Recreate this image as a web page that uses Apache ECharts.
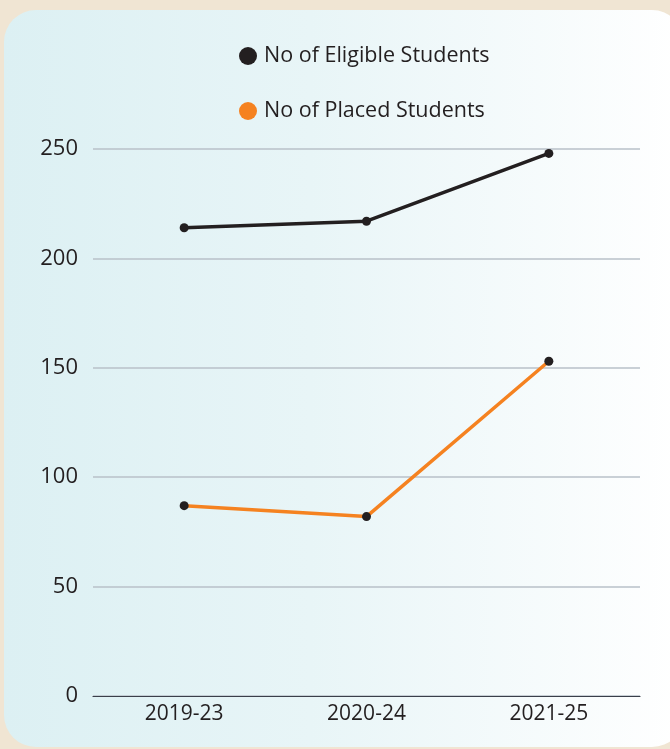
<!DOCTYPE html>
<html>
<head>
<meta charset="utf-8">
<script src="https://cdn.jsdelivr.net/npm/echarts@6/dist/echarts.min.js"></script>
<style>
html,body{margin:0;padding:0;width:670px;height:749px;background:#f0e5d3;overflow:hidden;}
#card{position:absolute;left:4px;top:10px;width:680px;height:737px;border-radius:32px;
background:linear-gradient(to right,#dcf0f3 0%,#e8f5f7 45%,#ffffff 100%);}
#chart{position:absolute;left:0;top:0;width:670px;height:749px;}
</style>
</head>
<body>
<div id="card"></div>
<div id="chart"></div>
<script>
var categories = ['2019-23', '2020-24', '2021-25'];
var eligible = [214, 217, 248];
var placed = [87, 82, 153];
var seriesNames = ['No of Eligible Students', 'No of Placed Students'];
var yTicks = {min: 0, max: 250, interval: 50};

var chart = echarts.init(document.getElementById('chart'), null, {renderer: 'canvas'});
chart.setOption({
  backgroundColor: 'transparent',
  legend: {
    orient: 'vertical',
    left: 234,
    top: 40,
    itemGap: 33,
    itemWidth: 18,
    itemHeight: 18,
    icon: 'circle',
    textStyle: {fontFamily: 'Open Sans', fontSize: 21.5, color: '#231f20', padding: [0, 0, 0, 2]},
    data: [
      {name: seriesNames[0], itemStyle: {color: '#231f20'}},
      {name: seriesNames[1], itemStyle: {color: '#f58220'}}
    ]
  },
  grid: {left: 93, right: 30, top: 149, bottom: 53, containLabel: false},
  xAxis: {
    type: 'category',
    data: categories,
    boundaryGap: true,
    axisLine: {lineStyle: {color: '#3a3f4a', width: 1.2}},
    axisTick: {show: false},
    axisLabel: {fontFamily: 'Open Sans', fontSize: 21, color: '#231f20', margin: 8}
  },
  yAxis: {
    type: 'value',
    min: yTicks.min,
    max: yTicks.max,
    interval: yTicks.interval,
    axisLine: {show: false},
    axisTick: {show: false},
    axisLabel: {fontFamily: 'Open Sans', fontSize: 22, color: '#231f20', margin: 15},
    splitLine: {lineStyle: {color: '#b9c0c9', width: 1.5}}
  },
  series: [
    {
      name: seriesNames[0], type: 'line', data: eligible,
      symbol: 'circle', symbolSize: 9,
      lineStyle: {color: '#231f20', width: 3.5},
      itemStyle: {color: '#231f20'},
      z: 3
    },
    {
      name: seriesNames[1], type: 'line', data: placed,
      symbol: 'circle', symbolSize: 9,
      lineStyle: {color: '#f58220', width: 3.5},
      itemStyle: {color: '#231f20'},
      z: 3
    }
  ],
  animation: false
});
</script>
</body>
</html>
